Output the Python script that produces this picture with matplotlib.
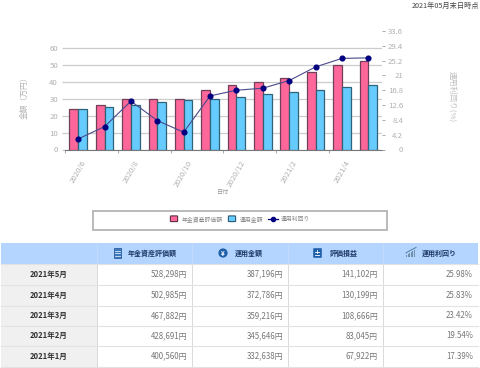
"""Pension asset chart with monthly summary table below."""

import matplotlib.pyplot as plt
from matplotlib.patches import Rectangle, FancyBboxPatch

plt.rcParams["font.family"] = ["Noto Sans CJK JP", "DejaVu Sans"]

months = ["2020/6", "2020/7", "2020/8", "2020/9", "2020/10", "2020/11",
          "2020/12", "2021/1", "2021/2", "2021/3", "2021/4", "2021/5"]
assets = [24, 26, 30, 30, 30, 35, 38, 40, 42, 46, 50, 52]
invested = [24, 25, 26, 28, 29, 30, 31, 33, 34, 35, 37, 38]
yields = [3.0, 6.5, 13.7, 8.2, 4.9, 15.2, 16.8, 17.39, 19.54, 23.42, 25.83, 25.98]
left_ticks = [0, 10, 20, 30, 40, 50, 60]
right_ticks = [0, 4.2, 8.4, 12.6, 16.8, 21, 25.2, 29.4, 33.6]
right_tick_labels = ["0", "4.2", "8.4", "12.6", "16.8", "21", "25.2", "29.4", "33.6"]

headers = ["年金資産評価額", "運用金額", "評価損益", "運用利回り"]
row_labels = ["2021年5月", "2021年4月", "2021年3月", "2021年2月", "2021年1月"]
table_values = [
    ["528,298円", "387,196円", "141,102円", "25.98%"],
    ["502,985円", "372,786円", "130,199円", "25.83%"],
    ["467,882円", "359,216円", "108,666円", "23.42%"],
    ["428,691円", "345,646円", "83,045円", "19.54%"],
    ["400,560円", "332,638円", "67,922円", "17.39%"],
]

PINK = "#ff6699"
BLUE = "#66ccff"
NAVY = "#000080"
GREY = "#b0b0b0"
W, H = 480, 368

fig = plt.figure(figsize=(W / 100, H / 100), dpi=100)

# full figure layer in pixel coordinates for the table and legend box
page = fig.add_axes([0, 0, 1, 1])
page.set_xlim(0, W)
page.set_ylim(H, 0)
page.axis("off")

ax = fig.add_axes([65 / W, 1 - 149.5 / H, 316.5 / W, 118.5 / H])
x = list(range(len(months)))
bar_w = 0.33
ax.bar([i - bar_w / 2 for i in x], assets, bar_w, color=PINK, edgecolor="#70405a", linewidth=0.9, zorder=3)
ax.bar([i + bar_w / 2 for i in x], invested, bar_w, color=BLUE, edgecolor="#2f6478", linewidth=0.9, zorder=3)
ax.set_xlim(-0.5, 11.5)
ax.set_ylim(0, 70)
ax.set_yticks(left_ticks)
ax.set_xticks(x[::2])
ax.set_xticklabels(months[::2], rotation=60, ha="center", fontsize=5.6, color=GREY)
ax.set_xticks([i - 0.5 for i in x[::2]], minor=True)
ax.tick_params(axis="x", which="major", length=0, pad=7)
ax.tick_params(axis="x", which="minor", length=2, width=0.7, color="#aaaaaa")
ax.tick_params(axis="y", length=2, width=0.9, color="#cccccc", labelsize=5.6, labelcolor=GREY, pad=3)
ax.grid(axis="y", color="#cccccc", linewidth=0.9, zorder=0)
for side in ("top", "left", "right"):
    ax.spines[side].set_visible(False)
ax.spines["bottom"].set_color("#777777")

ax2 = ax.twinx()
ax2.plot(x, yields, color="#4a4a8c", linewidth=0.8, marker="o", markersize=3.4,
         markerfacecolor=NAVY, markeredgecolor=NAVY, zorder=5)
ax2.set_ylim(0, 33.6)
ax2.set_yticks(right_ticks)
ax2.set_yticklabels(right_tick_labels, ha="right")
ax2.tick_params(axis="y", length=2, width=0.7, color="#aaaaaa", labelsize=5.6, labelcolor=GREY, pad=13.5)
for spine in ax2.spines.values():
    spine.set_visible(False)

page.text(24, 96, "金額（万円）", rotation=90, ha="center", va="center", fontsize=5.6, color=GREY)
page.text(452, 97, "運用利回り(%)", rotation=270, ha="center", va="center", fontsize=5.6, color="#c0c0c0")
page.text(223.5, 192, "日付", ha="center", va="center", fontsize=4.4, color="#999999")
page.text(479, 6, "2021年05月末日時点", ha="right", va="center", fontsize=5.2, color="#444444")

# legend box
page.add_patch(Rectangle((93, 210.5), 294, 19.5, facecolor="white", edgecolor="#b4b4b4", linewidth=1.3))
page.add_patch(FancyBboxPatch((171, 216.5), 6, 4.5, boxstyle="round,pad=0.6", facecolor=PINK, edgecolor="#5a3045", linewidth=0.8))
page.text(182, 219, "年金資産評価額", ha="left", va="center", fontsize=4.2, color="#888888")
page.add_patch(FancyBboxPatch((229, 216.5), 6, 4.5, boxstyle="round,pad=0.6", facecolor=BLUE, edgecolor="#2f5a70", linewidth=0.8))
page.text(239.5, 219, "運用金額", ha="left", va="center", fontsize=4.2, color="#888888")
page.plot([268, 273, 278], [219, 219, 219], color=NAVY, linewidth=0.9, marker="o", markersize=3, markevery=[1])
page.text(281, 219, "運用利回り", ha="left", va="center", fontsize=4.2, color="#888888")

# table
col_edges = [1, 97, 192, 288, 383, 478]
row_edges = [264, 284.5, 305.5, 325.5, 346, 366.5]
page.add_patch(Rectangle((col_edges[0], 243), col_edges[-1] - col_edges[0], 21, facecolor="#b3d5ff", edgecolor="none"))
for c in col_edges[1:-1]:
    page.plot([c, c], [243, 264], color="#c4dcfa", linewidth=0.7)
    page.plot([c, c], [264, 368], color="#d9d9d9", linewidth=0.7)
page.add_patch(Rectangle((col_edges[0], 264), col_edges[1] - col_edges[0], 104, facecolor="#f0f0f0", edgecolor="none"))
for r in row_edges:
    page.plot([1, 478], [r, r], color="#e2e2e2", linewidth=0.8)

header_text_x = [128, 235, 330, 422]
for tx, label in zip(header_text_x, headers):
    page.text(tx, 253.5, label, ha="left", va="center", fontsize=5, fontweight="bold", color="#1f3a66")

# header icons
page.add_patch(Rectangle((113.5, 248), 7, 10, facecolor="#3a78bd", edgecolor="#1f4f8f", linewidth=0.5))
for ly in (250.5, 253, 255.5):
    page.plot([114.5, 119.5], [ly, ly], color="white", linewidth=0.5)
page.add_patch(plt.Circle((223, 253), 4.6, facecolor="#1f5ea8", edgecolor="none"))
page.text(223, 253, "¥", ha="center", va="center", fontsize=4.5, color="white", fontweight="bold")
page.add_patch(FancyBboxPatch((314, 249), 7, 8, boxstyle="round,pad=0.8", facecolor="#1f5ea8", edgecolor="none"))
page.text(317.5, 253, "±", ha="center", va="center", fontsize=5, color="white", fontweight="bold")
for i, bar_h in enumerate([2, 3, 4, 5, 6, 7]):
    page.add_patch(Rectangle((406 + i * 1.5, 257 - bar_h), 1, bar_h, facecolor="#6f8fa8", edgecolor="none"))
page.plot([406, 411, 416], [253, 250, 247.5], color="#4f7f9f", linewidth=0.7)

for i, label in enumerate(row_labels):
    cy = (row_edges[i] + row_edges[i + 1]) / 2
    page.text(49, cy, label, ha="center", va="center", fontsize=5.5, fontweight="bold", color="#333333")
    for j, value in enumerate(table_values[i]):
        page.text(col_edges[j + 2] - 5, cy, value, ha="right", va="center", fontsize=5.7, color="#777777")

fig.savefig("out.png", dpi=100)
